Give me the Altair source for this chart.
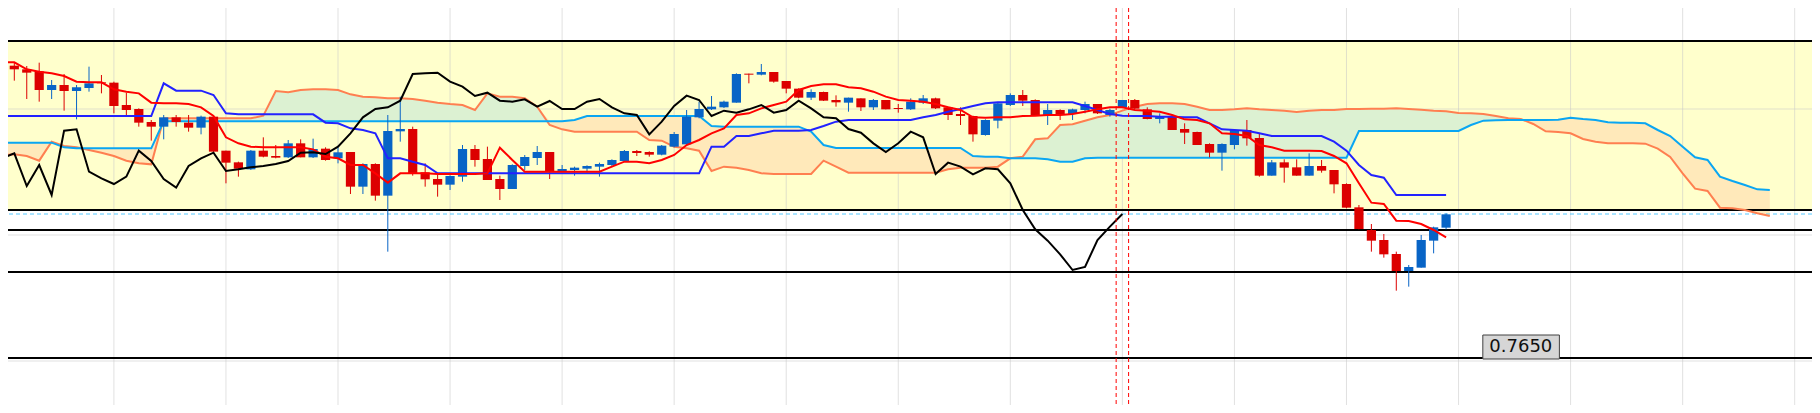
import altair as alt
import pandas as pd

# ---------------- data (prices) ----------------
opens = [0.77402,0.77377,0.77366,0.77360,0.77304,0.77319,0.77301,0.77310,0.77327,0.77326,
0.77259,0.77247,0.77208,0.77194,0.77222,0.77206,0.77191,0.77224,0.77122,0.77087,
0.77066,0.77122,0.77106,0.77102,0.77144,0.77102,0.77128,0.77099,0.77118,0.77014,
0.77082,0.76987,0.77180,0.77187,0.77057,0.77037,0.77020,0.77044,0.77127,0.77097,
0.77037,0.77007,0.77076,0.77100,0.77118,0.77059,0.77064,0.77068,0.77074,0.77079,
0.77091,0.77121,0.77118,0.77110,0.77134,0.77141,0.77222,0.77246,0.77252,0.77266,
0.77353,0.77350,0.77358,0.77331,0.77308,0.77281,0.77298,0.77274,0.77266,0.77279,
0.77252,0.77274,0.77250,0.77246,0.77266,0.77279,0.77252,0.77232,0.77226,0.77169,
0.77212,0.77259,0.77289,0.77274,0.77229,0.77244,0.77232,0.77244,0.77262,0.77229,
0.77252,0.77274,0.77246,0.77217,0.77224,0.77187,0.77178,0.77142,0.77116,0.77139,
0.77184,0.77160,0.77047,0.77087,0.77072,0.77047,0.77076,0.77064,0.77022,0.76952,
0.76884,0.76854,0.76812,0.76761,0.76771,0.76852,0.76891]
highs = [0.77436,0.77387,0.77376,0.77386,0.77334,0.77352,0.77319,0.77374,0.77349,0.77329,
0.77296,0.77249,0.77214,0.77229,0.77229,0.77229,0.77227,0.77226,0.77122,0.77089,
0.77124,0.77162,0.77139,0.77154,0.77156,0.77158,0.77132,0.77132,0.77118,0.77084,
0.77084,0.77229,0.77284,0.77194,0.77084,0.77054,0.77048,0.77139,0.77139,0.77134,
0.77047,0.77081,0.77109,0.77136,0.77118,0.77079,0.77074,0.77078,0.77086,0.77096,
0.77124,0.77124,0.77120,0.77139,0.77178,0.77244,0.77269,0.77286,0.77272,0.77354,
0.77353,0.77382,0.77358,0.77331,0.77309,0.77306,0.77299,0.77288,0.77281,0.77279,
0.77277,0.77274,0.77262,0.77279,0.77289,0.77281,0.77254,0.77252,0.77227,0.77216,
0.77266,0.77294,0.77304,0.77276,0.77262,0.77246,0.77248,0.77269,0.77262,0.77248,
0.77274,0.77277,0.77252,0.77234,0.77226,0.77204,0.77179,0.77144,0.77144,0.77186,
0.77214,0.77174,0.77094,0.77096,0.77096,0.77114,0.77094,0.77064,0.77024,0.76959,
0.76902,0.76872,0.76819,0.76779,0.76869,0.76894,0.76934]
lows = [0.77334,0.77332,0.77277,0.77269,0.77277,0.77242,0.77216,0.77299,0.77294,0.77234,
0.77229,0.77194,0.77152,0.77156,0.77194,0.77179,0.77171,0.77119,0.77024,0.77044,
0.77064,0.77102,0.77099,0.77100,0.77102,0.77100,0.77092,0.77084,0.76992,0.76992,
0.76972,0.76819,0.77149,0.77047,0.77014,0.76984,0.77004,0.77029,0.77074,0.77034,
0.76974,0.77007,0.77064,0.77079,0.77037,0.77057,0.77047,0.77057,0.77044,0.77074,
0.77089,0.77106,0.77104,0.77108,0.77132,0.77139,0.77219,0.77244,0.77250,0.77266,
0.77324,0.77348,0.77326,0.77294,0.77279,0.77274,0.77271,0.77254,0.77239,0.77241,
0.77244,0.77246,0.77236,0.77244,0.77262,0.77247,0.77214,0.77199,0.77149,0.77167,
0.77189,0.77256,0.77256,0.77226,0.77199,0.77214,0.77214,0.77234,0.77232,0.77224,
0.77250,0.77246,0.77216,0.77204,0.77184,0.77142,0.77139,0.77102,0.77062,0.77126,
0.77137,0.77044,0.77047,0.77026,0.77047,0.77047,0.77056,0.76994,0.76949,0.76886,
0.76819,0.76801,0.76702,0.76714,0.76771,0.76814,0.76886]
closes = [0.77374,0.77366,0.77356,0.77304,0.77319,0.77301,0.77312,0.77324,0.77324,0.77256,
0.77244,0.77206,0.77194,0.77222,0.77208,0.77191,0.77224,0.77119,0.77086,0.77068,
0.77122,0.77104,0.77101,0.77144,0.77102,0.77127,0.77094,0.77117,0.77014,0.77082,
0.76987,0.77181,0.77187,0.77052,0.77036,0.77020,0.77046,0.77127,0.77094,0.77034,
0.77007,0.77079,0.77103,0.77118,0.77059,0.77067,0.77071,0.77076,0.77082,0.77094,
0.77121,0.77115,0.77110,0.77137,0.77172,0.77224,0.77247,0.77254,0.77269,0.77352,
0.77350,0.77358,0.77329,0.77308,0.77281,0.77298,0.77272,0.77267,0.77281,0.77252,
0.77274,0.77246,0.77247,0.77269,0.77279,0.77249,0.77229,0.77226,0.77171,0.77214,
0.77264,0.77289,0.77272,0.77229,0.77244,0.77232,0.77246,0.77262,0.77234,0.77244,
0.77274,0.77248,0.77217,0.77226,0.77184,0.77176,0.77139,0.77116,0.77142,0.77184,
0.77159,0.77047,0.77087,0.77071,0.77047,0.77076,0.77062,0.77021,0.76951,0.76887,
0.76852,0.76811,0.76761,0.76773,0.76854,0.76892,0.76931]

tenkan = [0.77387,0.77387,0.77366,0.77359,0.77354,0.77346,0.77329,0.77327,0.77327,0.77306,
0.77299,0.77294,0.77266,0.77264,0.77264,0.77262,0.77252,0.77226,0.77162,0.77144,
0.77134,0.77132,0.77132,0.77132,0.77132,0.77126,0.77104,0.77099,0.77079,0.77079,
0.77054,0.77026,0.77054,0.77054,0.77054,0.77052,0.77052,0.77052,0.77052,0.77054,
0.77131,0.77094,0.77059,0.77059,0.77059,0.77059,0.77059,0.77059,0.77059,0.77074,
0.77089,0.77089,0.77084,0.77094,0.77109,0.77139,0.77154,0.77174,0.77189,0.77229,
0.77234,0.77249,0.77259,0.77269,0.77304,0.77316,0.77321,0.77321,0.77312,0.77309,
0.77299,0.77284,0.77274,0.77272,0.77269,0.77262,0.77252,0.77244,0.77222,0.77221,
0.77222,0.77222,0.77226,0.77227,0.77229,0.77229,0.77232,0.77239,0.77246,0.77252,
0.77252,0.77244,0.77242,0.77239,0.77229,0.77216,0.77214,0.77204,0.77174,0.77172,
0.77166,0.77139,0.77132,0.77122,0.77122,0.77122,0.77121,0.77106,0.77084,0.77024,
0.76966,0.76962,0.76912,0.76911,0.76902,0.76884,0.76862]

kijun = [0.77226,0.77226,0.77226,0.77226,0.77226,0.77226,0.77226,0.77226,0.77226,0.77226,
0.77226,0.77226,0.77226,0.77324,0.77302,0.77302,0.77302,0.77289,0.77234,0.77231,
0.77231,0.77231,0.77231,0.77231,0.77231,0.77231,0.77206,0.77204,0.77189,0.77184,
0.77174,0.77099,0.77099,0.77089,0.77079,0.77054,0.77054,0.77054,0.77054,0.77054,
0.77054,0.77054,0.77054,0.77054,0.77054,0.77054,0.77054,0.77054,0.77054,0.77054,
0.77054,0.77054,0.77054,0.77054,0.77054,0.77054,0.77054,0.77134,0.77134,0.77166,
0.77166,0.77174,0.77182,0.77182,0.77182,0.77184,0.77196,0.77209,0.77214,0.77214,
0.77214,0.77214,0.77214,0.77214,0.77222,0.77229,0.77239,0.77247,0.77256,0.77264,
0.77267,0.77267,0.77267,0.77267,0.77267,0.77267,0.77267,0.77256,0.77244,0.77232,
0.77227,0.77226,0.77226,0.77224,0.77224,0.77222,0.77222,0.77204,0.77186,0.77184,
0.77182,0.77174,0.77166,0.77166,0.77166,0.77166,0.77166,0.77149,0.77122,0.77079,
0.77049,0.77041,0.76989,0.76989,0.76989,0.76989,0.76989]

chikou = [0.77099,0.77114,0.77016,0.77079,0.76989,0.77182,0.77186,0.77059,0.77039,0.77022,
0.77044,0.77122,0.77091,0.77037,0.77011,0.77076,0.77099,0.77116,0.77061,0.77066,
0.77072,0.77076,0.77082,0.77091,0.77116,0.77117,0.77112,0.77134,0.77174,0.77222,
0.77247,0.77252,0.77272,0.77352,0.77354,0.77356,0.77329,0.77314,0.77286,0.77296,
0.77272,0.77269,0.77276,0.77254,0.77271,0.77247,0.77247,0.77269,0.77277,0.77252,
0.77234,0.77229,0.77171,0.77209,0.77256,0.77287,0.77274,0.77226,0.77242,0.77236,
0.77246,0.77259,0.77236,0.77244,0.77272,0.77249,0.77222,0.77219,0.77187,0.77176,
0.77144,0.77118,0.77144,0.77179,0.77162,0.77052,0.77086,0.77074,0.77051,0.77069,
0.77066,0.77024,0.76944,0.76886,0.76852,0.76811,0.76764,0.76773,0.76854,0.76894,
0.76932]

senkou_a = [0.77109,0.77111,0.77106,0.77092,0.77149,0.77136,0.77132,0.77124,0.77116,0.77106,
0.77092,0.77084,0.77081,0.77219,0.77219,0.77219,0.77219,0.77219,0.77219,0.77219,
0.77219,0.77227,0.77301,0.77297,0.77304,0.77306,0.77306,0.77304,0.77291,0.77284,
0.77282,0.77279,0.77279,0.77277,0.77272,0.77266,0.77262,0.77259,0.77244,0.77294,
0.77284,0.77284,0.77279,0.77254,0.77199,0.77186,0.77179,0.77179,0.77179,0.77179,
0.77179,0.77179,0.77154,0.77152,0.77134,0.77129,0.77122,0.77061,0.77074,0.77071,
0.77064,0.77054,0.77052,0.77052,0.77052,0.77052,0.77092,0.77074,0.77056,0.77056,
0.77056,0.77056,0.77056,0.77056,0.77056,0.77056,0.77066,0.77071,0.77071,0.77071,
0.77074,0.77099,0.77104,0.77156,0.77159,0.77199,0.77201,0.77212,0.77222,0.77229,
0.77242,0.77254,0.77262,0.77264,0.77264,0.77262,0.77254,0.77244,0.77244,0.77246,
0.77249,0.77246,0.77244,0.77242,0.77238,0.77242,0.77244,0.77244,0.77247,0.77247,
0.77248,0.77248,0.77249,0.77247,0.77245,0.77242,0.77240,0.77235,0.77234,0.77232,
0.77226,0.77219,0.77217,0.77202,0.77180,0.77178,0.77174,0.77157,0.77149,0.77144,
0.77144,0.77144,0.77143,0.77128,0.77103,0.77054,0.77008,0.77001,0.76951,0.76949,
0.76944,0.76934,0.76926]

senkou_b = [0.77146,0.77146,0.77146,0.77146,0.77146,0.77132,0.77129,0.77129,0.77129,0.77129,
0.77129,0.77129,0.77129,0.77210,0.77210,0.77210,0.77210,0.77210,0.77210,0.77210,
0.77210,0.77210,0.77210,0.77210,0.77210,0.77210,0.77210,0.77210,0.77210,0.77210,
0.77210,0.77210,0.77210,0.77210,0.77210,0.77210,0.77210,0.77210,0.77210,0.77210,
0.77210,0.77210,0.77210,0.77210,0.77210,0.77210,0.77214,0.77226,0.77226,0.77226,
0.77226,0.77226,0.77226,0.77226,0.77226,0.77226,0.77226,0.77196,0.77194,0.77194,
0.77194,0.77194,0.77194,0.77194,0.77194,0.77179,0.77139,0.77130,0.77130,0.77130,
0.77130,0.77130,0.77130,0.77130,0.77130,0.77130,0.77130,0.77130,0.77106,0.77104,
0.77104,0.77099,0.77099,0.77099,0.77096,0.77089,0.77089,0.77099,0.77101,0.77101,
0.77101,0.77101,0.77101,0.77101,0.77101,0.77101,0.77101,0.77101,0.77101,0.77101,
0.77101,0.77101,0.77101,0.77101,0.77101,0.77101,0.77101,0.77101,0.77101,0.77181,
0.77181,0.77181,0.77181,0.77181,0.77181,0.77181,0.77181,0.77181,0.77199,0.77212,
0.77213,0.77214,0.77214,0.77214,0.77214,0.77215,0.77221,0.77217,0.77214,0.77207,
0.77206,0.77206,0.77204,0.77184,0.77166,0.77134,0.77102,0.77094,0.77044,0.77031,
0.77019,0.77006,0.77004]

level_lines = [0.77451, 0.76944, 0.76884, 0.76758, 0.7650]
dashed_level = [0.76932]
grid_prices = [0.77247, 0.76869, 0.76491]
grid_bars = list(range(0, 146, 9))
marker_bars = [89.5, 90.5]
price_tag = 0.7650
tag_bar = 122.0

# ---------------- colours ----------------
BULL = "#0864c6"
BEAR = "#dc0000"
BAND = "#ffffcc"
GREEN = "#dcf1d2"
PEACH = "#ffe9ba"

# ---------------- frames ----------------
n = len(closes)
cdf = pd.DataFrame({
    "i": list(range(n)), "open": opens, "high": highs, "low": lows, "close": closes,
})
cdf["dir"] = ["up" if c >= o else "down" for o, c in zip(opens, closes)]
cdf["bot"] = cdf[["open", "close"]].min(axis=1)
cdf["top"] = cdf[["open", "close"]].max(axis=1)

tdf = pd.DataFrame({"i": list(range(len(tenkan))), "v": tenkan})
kdf = pd.DataFrame({"i": list(range(len(kijun))), "v": kijun})
chdf = pd.DataFrame({"i": list(range(len(chikou))), "v": chikou})
cloud = pd.DataFrame({"i": list(range(len(senkou_a))), "a": senkou_a, "b": senkou_b})
cloud["hi"] = cloud[["a", "b"]].max(axis=1)

W, H = 1804, 397
xs = alt.Scale(domain=[0.494, 145.39], nice=False, zero=False)
ys = alt.Scale(domain=[0.76359, 0.7755], nice=False, zero=False)


def X(f):
    return alt.X(f, type="quantitative", scale=xs, axis=None)


def Y(f):
    return alt.Y(f, type="quantitative", scale=ys, axis=None)


band = alt.Chart(pd.DataFrame({"y1": [level_lines[0]], "y2": [level_lines[1]]})).mark_rect(
    color=BAND).encode(y=Y("y1"), y2="y2")

hgrid = alt.Chart(pd.DataFrame({"p": grid_prices})).mark_rule(
    color="#c8c8c8", opacity=0.55, strokeWidth=1).encode(y=Y("p"))
vgrid = alt.Chart(pd.DataFrame({"b": grid_bars})).mark_rule(
    color="#c8c8c8", opacity=0.55, strokeWidth=1, clip=True).encode(x=X("b"))

green = alt.Chart(cloud).mark_area(color=GREEN, clip=True).encode(
    x=X("i"), y=Y("hi"), y2="b")
peach = alt.Chart(cloud).mark_area(color=PEACH, clip=True).encode(
    x=X("i"), y=Y("hi"), y2="a")

levels = alt.Chart(pd.DataFrame({"p": level_lines})).mark_rule(
    color="black", strokeWidth=2).encode(y=Y("p"))
dashed = alt.Chart(pd.DataFrame({"p": dashed_level})).mark_rule(
    color="#55c8ff", strokeWidth=1, strokeDash=[4, 3]).encode(y=Y("p"))

line_a = alt.Chart(cloud).mark_line(color="#ff7f50", strokeWidth=2, clip=True).encode(
    x=X("i"), y=Y("a"))
line_b = alt.Chart(cloud).mark_line(color="#0aa6f2", strokeWidth=2, clip=True).encode(
    x=X("i"), y=Y("b"))

candle_color = alt.Color("dir:N", scale=alt.Scale(domain=["up", "down"], range=[BULL, BEAR]), legend=None)
wicks = alt.Chart(cdf).mark_rule(strokeWidth=1, clip=True).encode(
    x=X("i"), y=Y("low"), y2="high", color=candle_color)
bodies = alt.Chart(cdf).transform_calculate(
    x0="datum.i - 0.37", x1="datum.i + 0.37").mark_rect(clip=True).encode(
    x=X("x0"), x2="x1", y=Y("bot"), y2="top", color=candle_color)

kline = alt.Chart(kdf).mark_line(color="#2222ff", strokeWidth=2, clip=True).encode(x=X("i"), y=Y("v"))
tline = alt.Chart(tdf).mark_line(color="#ff0000", strokeWidth=2, clip=True).encode(x=X("i"), y=Y("v"))
chline = alt.Chart(chdf).mark_line(color="#000000", strokeWidth=2, clip=True).encode(x=X("i"), y=Y("v"))

markers = alt.Chart(pd.DataFrame({"b": marker_bars})).mark_rule(
    color="#ff0000", strokeWidth=1, strokeDash=[4, 3]).encode(x=X("b"))

tag_df = pd.DataFrame({"b": [tag_bar], "p": [price_tag], "t": [f"{price_tag:.4f}"]})
tag_box = alt.Chart(tag_df).transform_calculate(
    b0="datum.b - 3.05", b1="datum.b + 3.1", p0="datum.p - 0.00003", p1="datum.p + 0.00069"
).mark_rect(fill="#d6d6d6", stroke="#404040", strokeWidth=1).encode(
    x=X("b0"), x2="b1", y=Y("p0"), y2="p1")
tag_text = alt.Chart(tag_df).transform_calculate(pm="datum.p + 0.00033").mark_text(
    font="DejaVu Sans", fontSize=18, color="#101010", align="center", baseline="middle"
).encode(x=X("b"), y=Y("pm"), text="t:N")

chart = alt.layer(
    band, hgrid, vgrid, green, peach, levels, dashed, line_a, line_b,
    wicks, bodies, kline, tline, chline, markers, tag_box, tag_text
).properties(
    width=W, height=H, padding=0, autosize=alt.AutoSizeParams(type="none"),
    background="white"
).configure_view(stroke=None)

chart.save("out.html", embed_options={"renderer": "svg", "actions": False})
